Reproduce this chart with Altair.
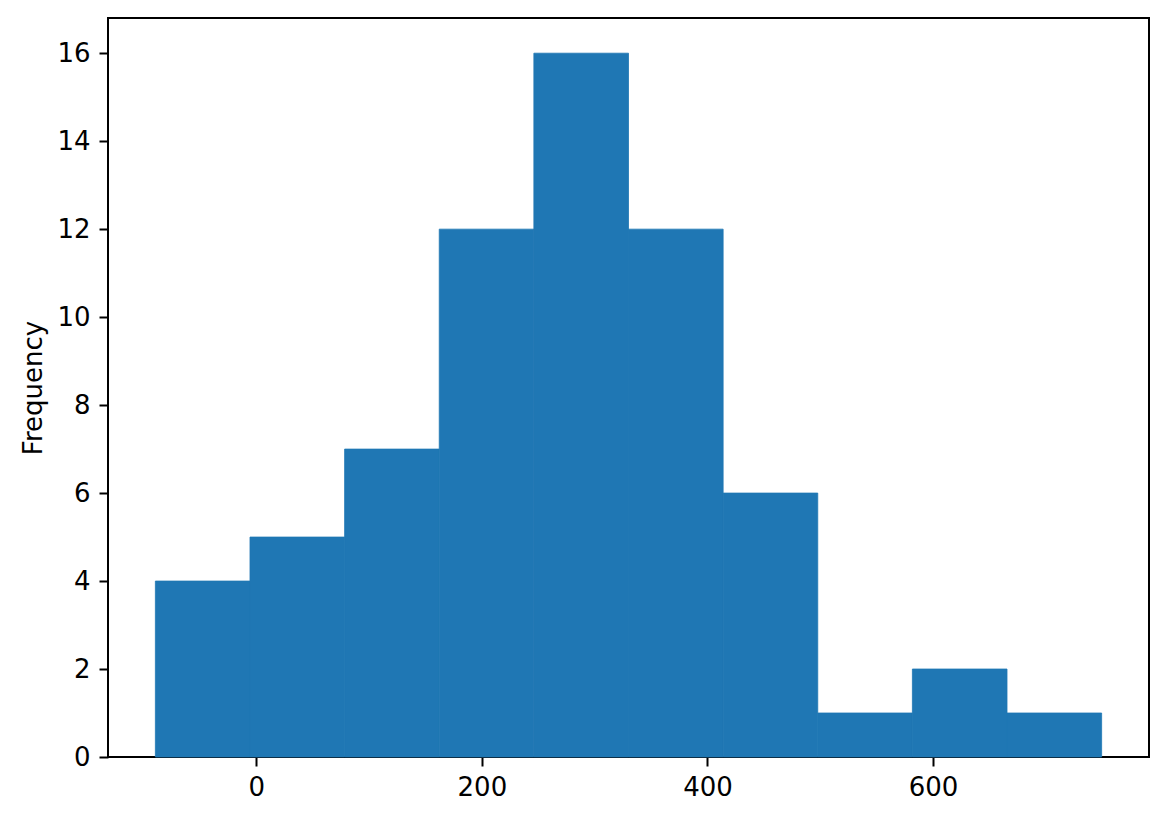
import altair as alt
import pandas as pd

bin_start = [-89.5, -5.6, 78.3, 162.2, 246.1, 330.0, 413.9, 497.8, 581.7, 665.6]
bin_end = [-5.6, 78.3, 162.2, 246.1, 330.0, 413.9, 497.8, 581.7, 665.6, 749.5]
counts = [4, 5, 7, 12, 16, 12, 6, 1, 2, 1]

df = pd.DataFrame({"start": bin_start, "end": bin_end, "count": counts})

chart = alt.Chart(df).mark_rect(color="#1f77b4", stroke="#1f77b4", strokeWidth=0.8).encode(
    x=alt.X("start:Q", scale=alt.Scale(domain=[-131.5, 791.5], nice=False, zero=False),
            axis=alt.Axis(values=[0, 200, 400, 600], title=None, grid=False, labelPadding=8)),
    x2="end:Q",
    y=alt.Y("count:Q", scale=alt.Scale(domain=[0, 16.8], nice=False),
            axis=alt.Axis(values=[0, 2, 4, 6, 8, 10, 12, 14, 16], title="Frequency", grid=False,
                          labelPadding=9, titlePadding=10)),
    y2=alt.datum(0),
).properties(
    width=1041, height=739,
    autosize=alt.AutoSizeParams(type="none"),
    padding={"left": 100, "top": 10, "right": 10, "bottom": 60},
).configure_view(
    stroke="black", strokeWidth=2
).configure_axis(
    domain=False, tickColor="black", tickWidth=2, tickSize=9,
    labelFont="DejaVu Sans", labelFontSize=26, labelColor="black",
    titleFont="DejaVu Sans", titleFontSize=26, titleFontWeight="normal", titleColor="black",
)

chart.save("out.html", embed_options={"renderer": "svg", "actions": False})
